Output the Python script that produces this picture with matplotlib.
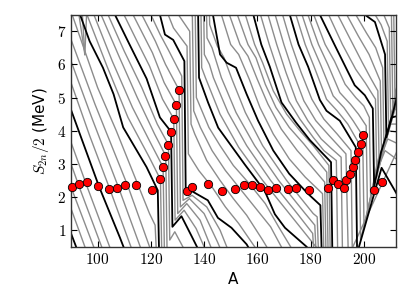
import matplotlib
matplotlib.use('Agg')
import matplotlib.pyplot as plt
from matplotlib.ticker import FuncFormatter, MultipleLocator

plt.rcParams['mathtext.fontset'] = 'cm'
plt.rcParams['font.family'] = ['DejaVu Sans']

# isotopic chains, S_2n/2 (MeV) against mass number A, one list per proton number Z
z30 = [(90, 0.9), (91.9, 0.5)]
z31 = [(90, 1.65), (95.2, 0.5)]
z32 = [(90, 2.3), (98.5, 0.5)]
z33 = [(90, 3.0), (93.1, 2.3), (101.5, 0.5)]
z34 = [(90, 3.65), (96.1, 2.3), (104.5, 0.5)]
z35 = [(90, 4.63), (100.6, 2.3), (108.4, 0.77), (109.7, 0.5)]
z36 = [(90, 5.45), (97, 3.85), (104.3, 2.3), (112.5, 0.5)]
z37 = [(90, 6.1), (98, 4.35), (107.8, 2.3), (116, 0.5)]
z38 = [(90, 6.75), (99, 4.8), (111.5, 2.3), (119.5, 0.5)]
z39 = [(90, 7.6), (100, 5.3), (107, 4.0), (115.5, 2.3), (119.5, 1.5), (121.6, 1.15), (122.1, 0.3)]
z40 = [(93.4, 7.5), (97, 6.7), (102, 5.9), (106, 5.1), (109.6, 4.1), (118.4, 2.9), (122.6, 2.2),
       (123.1, 0.3)]
z41 = [(96, 7.5), (103.5, 5.95), (111.4, 4.4), (119.4, 3.2), (123.6, 2.53), (124.1, 0.3)]
z42 = [(98.6, 7.5), (105.5, 6.1), (113.1, 4.7), (120.4, 3.55), (124.6, 2.9), (125.1, 0.3)]
z43 = [(101.3, 7.5), (108, 6.25), (114.9, 5.0), (121.4, 3.9), (125.6, 3.24), (126.1, 0.3)]
z44 = [(103.9, 7.5), (110, 6.4), (116.6, 5.3), (122.4, 4.2), (126.6, 3.58), (127.1, 0.7),
       (129, 0.95), (132, 0.5)]
z45 = [(106.5, 7.5), (112, 6.6), (118.4, 5.57), (123.4, 4.4), (127.6, 3.97), (128.1, 1.1),
       (131.5, 1.42), (135.3, 0.82), (137.3, 0.5)]
z46 = [(109.9, 7.5), (114.5, 6.75), (119.5, 5.95), (124.4, 4.95), (128.6, 4.36), (129.1, 1.3),
       (132.5, 1.6), (137, 1.05), (140, 0.5)]
z47 = [(113.3, 7.5), (120.6, 6.35), (125, 5.45), (129.6, 4.78), (130.1, 1.5), (133.5, 1.8),
       (138.5, 1.3), (142.5, 0.5)]
z48 = [(116.6, 7.5), (121.7, 6.7), (125.5, 6.0), (130.6, 5.23), (131.1, 1.7), (134.5, 1.95),
       (140, 1.5), (145, 0.65), (145.8, 0.5)]
z49 = [(120, 7.5), (123.5, 6.9), (126.5, 6.45), (131.6, 5.65), (132.1, 1.9), (135.5, 2.05),
       (141, 1.7), (146, 1.0), (148.5, 0.5)]
z50 = [(123.4, 7.5), (125.3, 6.9), (128.4, 6.74), (132.6, 6.1), (133.1, 2.2), (135.3, 2.18),
       (141.4, 1.9), (145.2, 1.37), (150.3, 1.07), (156, 0.57), (156.5, 0.5)]
z51 = [(126.5, 7.5), (128.5, 7.1), (133.6, 6.55), (134.1, 3.3), (138, 2.8), (143, 2.3), (148, 1.7),
       (153, 1.2), (159, 0.5)]
z52 = [(129.5, 7.6), (134.6, 7.0), (135.1, 4.2), (136.5, 3.9), (141, 3.1), (146, 2.5), (151, 1.95),
       (156, 1.45), (162, 0.7), (163.5, 0.5)]
z53 = [(132.5, 7.7), (135.6, 7.45), (136.1, 4.6), (138.6, 4.1), (143, 3.4), (148, 2.8), (153, 2.3),
       (159, 1.7), (165, 1.1), (169, 0.5)]
z54 = [(136.6, 8.0), (137.1, 5.0), (141.8, 4.1), (146, 3.55), (151, 2.95), (157, 2.4), (163, 1.8),
       (168, 1.1), (172.5, 0.5)]
z55 = [(137.6, 8.5), (138.1, 5.6), (141.5, 4.85), (145.3, 4.09), (155.3, 2.98), (162.8, 2.18),
       (166.6, 1.48), (170.4, 1.07), (178.5, 0.5)]
z56 = [(138.6, 9.0), (139.1, 5.9), (140.5, 5.6), (146, 4.5), (153, 3.5), (162, 2.5), (172, 1.5),
       (182, 0.5)]
z57 = [(139.6, 9.0), (140.1, 6.3), (142, 6.0), (143.5, 5.6), (149, 4.55), (156, 3.55), (165, 2.5),
       (175, 1.5), (180.8, 0.9), (181.3, 0.3)]
z58 = [(140.6, 9.0), (141.1, 6.8), (143, 6.5), (146.5, 5.6), (152, 4.55), (159, 3.55), (168, 2.5),
       (178, 1.5), (181.6, 1.15), (182.1, 0.3)]
z59 = [(141.6, 9.0), (142.1, 7.2), (145, 6.55), (147.5, 6.2), (150.5, 5.55), (155.5, 4.55),
       (162, 3.55), (171, 2.5), (181, 1.5), (182.5, 1.4), (183, 0.3)]
z60 = [(142.6, 9.0), (143.1, 7.6), (146, 6.3), (148.5, 6.05), (152, 5.9), (156, 5.1), (160.3, 4.3),
       (166, 3.4), (172, 2.7), (179, 2.1), (183.7, 1.75), (184.2, 0.3)]
z61 = [(146.5, 7.5), (150, 6.6), (153, 6.3), (157, 5.55), (161, 4.7), (166, 3.9), (172, 3.15),
       (178, 2.6), (184.5, 2.1), (185, 0.3)]
z62 = [(149.5, 7.5), (153.5, 6.6), (156.5, 6.25), (160, 5.55), (164, 4.8), (169, 4.05), (175, 3.4),
       (180, 2.95), (185.3, 2.45), (185.8, 0.3)]
z63 = [(152.5, 7.5), (156.5, 6.6), (159.5, 6.2), (163, 5.4), (167, 4.7), (172, 4.1), (177.5, 3.6),
       (182, 3.15), (186.1, 2.75), (186.6, 0.3)]
z64 = [(155.5, 7.5), (159, 6.6), (162, 6.05), (166, 5.2), (171, 4.5), (176, 4.0), (181, 3.55),
       (186.9, 2.95), (187.4, 0.3)]
z65 = [(158.5, 7.5), (161.5, 6.6), (164.7, 5.93), (169.1, 4.85), (174.5, 4.25), (179.7, 3.72),
       (186.5, 3.15), (187.7, 3.05), (188.2, 0.3)]
z66 = [(161.2, 7.5), (164.5, 6.6), (168, 5.75), (171.8, 4.9), (176, 4.35), (181, 3.8), (185, 3.4),
       (189.7, 3.1), (190.2, 0.3)]
z67 = [(164, 7.5), (167.3, 6.6), (170.8, 5.75), (174.7, 4.9), (179, 4.3), (184, 3.75), (188, 3.45),
       (191.5, 3.2), (192, 0.3)]
z68 = [(166.7, 7.5), (170, 6.6), (173.5, 5.75), (177.5, 4.9), (182, 4.3), (187, 3.85), (193.3, 3.3),
       (194.2, 0.2), (213, 3.47)]
z69 = [(169.5, 7.5), (172.8, 6.6), (176.5, 5.75), (180.5, 4.95), (185, 4.35), (190, 3.9), (195.2, 3.4),
       (195.7, 0.3)]
z70 = [(172.2, 7.5), (175.5, 6.6), (179.1, 5.93), (183.5, 4.93), (186, 4.6), (191, 4.3), (197, 3.5),
       (197.5, 0.3), (206.7, 2.88), (211.7, 2.19), (213, 2.0)]
z71 = [(174.5, 7.5), (178, 6.6), (181.5, 5.9), (186, 4.95), (190, 4.6), (194, 4.2), (198.3, 3.6),
       (198.8, 0.7), (205, 2.8), (208, 3.4), (213, 3.1)]
z72 = [(176.8, 7.5), (180.5, 6.6), (184, 5.95), (188.5, 5.05), (192.5, 4.7), (196, 4.3), (199.6, 3.85),
       (200.1, 1.1), (205, 2.9), (209, 3.75), (213, 3.6)]
z73 = [(179, 7.5), (183, 6.6), (186.5, 6.0), (191, 5.15), (195, 4.8), (198, 4.5), (200.9, 4.15),
       (201.4, 1.5), (205, 3.0), (209.5, 4.0), (213, 3.95)]
z74 = [(181.2, 7.5), (185.5, 6.6), (189, 6.1), (193, 5.4), (197, 5.0), (200, 4.75), (202.1, 4.4),
       (202.6, 1.9), (205.5, 3.15), (210, 4.2), (213, 4.2)]
z75 = [(183.5, 7.5), (189.1, 6.58), (194.1, 5.77), (196.6, 5.37), (200.4, 5.07), (203.4, 4.67),
       (203.9, 2.3), (206.5, 3.35), (210.5, 4.4), (213, 4.45)]
z76 = [(186.8, 7.5), (192, 6.6), (197, 5.85), (200.5, 5.45), (204.4, 4.95), (204.9, 2.6), (207.5, 3.55),
       (211, 4.6), (213, 4.7)]
z77 = [(190.2, 7.5), (195, 6.75), (199.5, 6.05), (202.5, 5.6), (205.3, 5.2), (205.8, 2.9), (208.5, 3.8),
       (212, 4.8), (213, 4.85)]
z78 = [(193.6, 7.5), (198, 6.85), (202, 6.3), (206.2, 5.5), (206.7, 3.2), (209.5, 4.05), (213, 5.0)]
z79 = [(197, 7.5), (201, 6.95), (204.5, 6.5), (207.1, 5.9), (207.6, 3.5), (210.5, 4.3), (213, 5.1)]
z80 = [(200.4, 7.5), (204.2, 7.28), (208, 6.3), (208.5, 3.8), (211, 4.55), (213, 5.2)]
z81 = [(203.5, 7.6), (206.5, 7.2), (208.8, 6.7), (209.3, 4.1), (213, 5.3)]
z82 = [(207, 7.6), (209.6, 7.1), (210.1, 4.4), (213, 5.4)]
z83 = [(209.5, 7.6), (210.4, 7.5), (210.9, 4.7), (213, 5.5)]
z84 = [(211.2, 7.9), (211.7, 5.0), (213, 5.6)]

# short steep pieces in the upper left corner
corner_lines = [[(95.2, 6.3), (92.8, 7.6)], [(95.2, 6.3), (94.2, 7.6)], [(95.2, 6.3), (95.9, 7.6)]]

# r-process path
path_A = [90.3, 93.1, 96.1, 100.3, 104.3, 107.3, 110.3, 114.4, 120.4, 123.4, 124.5, 125.5, 126.5,
          127.6, 128.6, 129.5, 130.6, 133.4, 135.5, 141.6, 146.8, 151.8, 155.0, 158.1, 161.1,
          164.1, 167.2, 171.6, 174.4, 179.4, 186.4, 188.5, 190.4, 192.6, 193.5, 194.8, 195.8,
          196.6, 197.7, 198.8, 199.8, 203.8, 206.9]
path_S = [2.30, 2.40, 2.46, 2.33, 2.25, 2.28, 2.37, 2.36, 2.20, 2.53, 2.90, 3.24, 3.58,
          3.97, 4.36, 4.78, 5.23, 2.18, 2.30, 2.40, 2.18, 2.25, 2.36, 2.36, 2.31,
          2.22, 2.26, 2.23, 2.28, 2.20, 2.28, 2.50, 2.40, 2.28, 2.50, 2.70, 2.91,
          3.13, 3.36, 3.61, 3.86, 2.20, 2.45]

chains = {
    30: z30, 31: z31, 32: z32, 33: z33, 34: z34, 35: z35, 36: z36, 37: z37, 38: z38, 39: z39,
    40: z40, 41: z41, 42: z42, 43: z43, 44: z44, 45: z45, 46: z46, 47: z47, 48: z48, 49: z49,
    50: z50, 51: z51, 52: z52, 53: z53, 54: z54, 55: z55, 56: z56, 57: z57, 58: z58, 59: z59,
    60: z60, 61: z61, 62: z62, 63: z63, 64: z64, 65: z65, 66: z66, 67: z67, 68: z68, 69: z69,
    70: z70, 71: z71, 72: z72, 73: z73, 74: z74, 75: z75, 76: z76, 77: z77, 78: z78, 79: z79,
    80: z80, 81: z81, 82: z82, 83: z83, 84: z84,
}

fig = plt.figure(figsize=(4.16, 2.97), dpi=100)
ax = fig.add_axes([0.1707, 0.1694, 0.7805, 0.7811])

gray = '#8c8c8c'
for z, pts in chains.items():
    if z % 5 == 0:
        continue
    ax.plot([p[0] for p in pts], [p[1] for p in pts], color=gray, lw=1.0, zorder=1)
for pts in corner_lines:
    ax.plot([p[0] for p in pts], [p[1] for p in pts], color=gray, lw=1.0, zorder=1)
for z, pts in chains.items():
    if z % 5 != 0:
        continue
    ax.plot([p[0] for p in pts], [p[1] for p in pts], color='black', lw=1.3, zorder=2)

# dots are drawn over the frame, as in the original
ax.plot(path_A, path_S, 'o', color='red', markeredgecolor='black', markeredgewidth=0.6,
        markersize=6, zorder=5, clip_on=False)

ax.set_xlim(90, 212)
ax.set_ylim(0.5, 7.5)
ax.xaxis.set_major_locator(MultipleLocator(20))
ax.yaxis.set_major_locator(MultipleLocator(1))
ax.xaxis.set_major_formatter(FuncFormatter(lambda v, p: r'$%d$' % v))
ax.yaxis.set_major_formatter(FuncFormatter(lambda v, p: r'$%d$' % v))
ax.tick_params(direction='in', top=True, right=True, length=4, width=0.8, labelsize=11)
for s in ax.spines.values():
    s.set_linewidth(1.0)
    s.set_color('#333333')

ax.set_xlabel('A', fontsize=11)
ax.set_ylabel(r'$S_{2n}/2$ (MeV)', fontsize=11)

fig.savefig('out.png', dpi=100)
